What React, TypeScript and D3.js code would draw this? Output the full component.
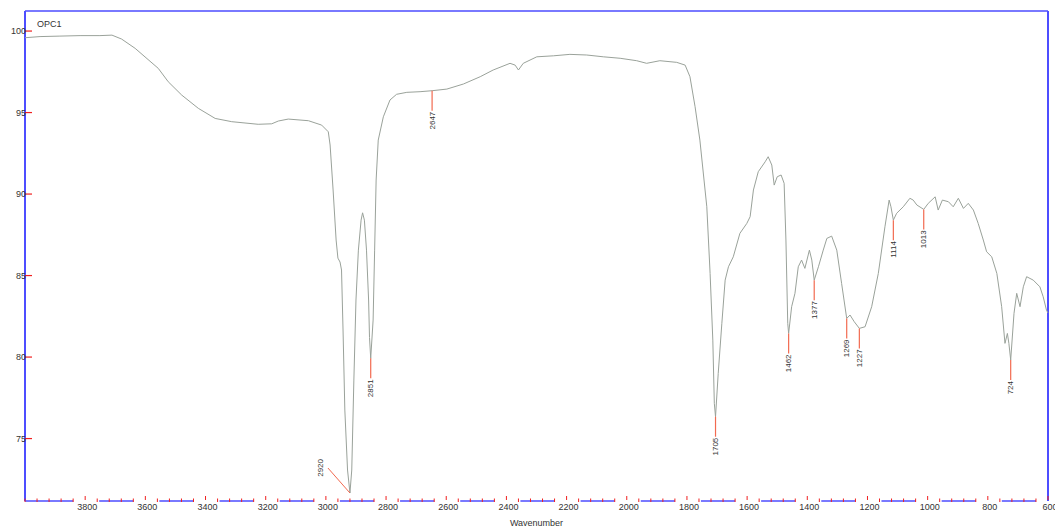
import React from "react";
import * as d3 from "d3";

// Spectrum: wavenumber (cm-1) and transmittance (%)
const wavenumbers = [
  4000, 3950, 3884, 3817, 3751, 3711, 3679, 3634, 3557, 3524, 3479, 3424, 3368, 3313, 3225, 3180,
  3158, 3125, 3058, 3014, 2992, 2986, 2976, 2966, 2960, 2953, 2948, 2943, 2937, 2928, 2920, 2914,
  2907, 2900, 2892, 2883, 2878, 2872, 2865, 2858, 2855, 2851, 2843, 2838, 2833, 2826, 2809, 2787,
  2765, 2731, 2687, 2647, 2598, 2543, 2487, 2444, 2388, 2371, 2360, 2353, 2344, 2299, 2244, 2189,
  2133, 2078, 2022, 1967, 1934, 1890, 1834, 1806, 1790, 1773, 1757, 1734, 1723, 1714, 1709, 1705,
  1696, 1684, 1673, 1662, 1646, 1624, 1601, 1590, 1579, 1563, 1540, 1530, 1518, 1510, 1500, 1487,
  1477, 1471, 1465, 1462, 1452, 1441, 1430, 1419, 1408, 1393, 1385, 1377, 1363, 1347, 1335, 1319,
  1302, 1286, 1269, 1258, 1244, 1227, 1208, 1186, 1164, 1142, 1128, 1122, 1114, 1103, 1081, 1059,
  1048, 1036, 1013, 998, 975, 965, 951, 931, 915, 898, 881, 865, 848, 832, 815, 804,
  787, 770, 754, 743, 735, 730, 724, 713, 704, 693, 682, 671, 649, 627, 616, 605, 600,
];
const transmittance = [
  99.59, 99.66, 99.69, 99.72, 99.72, 99.75, 99.51, 98.94, 97.71, 96.89, 96.07, 95.26, 94.64, 94.44, 94.28, 94.31,
  94.48, 94.6, 94.5, 94.23, 93.82, 93.01, 90.25, 87.18, 86.07, 85.83, 85.34, 81.66, 76.75, 73.07, 71.66, 73.07,
  78.59, 83.5, 86.56, 88.4, 88.85, 88.4, 86.56, 83.5, 81.2, 79.92, 82.27, 86.56, 90.86, 93.31, 94.74, 95.77,
  96.12, 96.24, 96.28, 96.34, 96.44, 96.75, 97.2, 97.61, 98.02, 97.91, 97.61, 97.79, 98.02, 98.42, 98.48, 98.57,
  98.53, 98.42, 98.33, 98.18, 98.02, 98.18, 98.08, 97.91, 97.2, 95.36, 93.31, 89.22, 85.13, 81.04, 77.16, 76.34,
  79.0, 82.07, 84.72, 85.54, 86.15, 87.59, 88.2, 88.61, 90.25, 91.37, 91.98, 92.29, 91.78, 90.55, 91.06, 91.17,
  90.66, 87.18, 82.07, 81.45, 83.09, 83.91, 85.54, 85.95, 85.44, 86.56, 85.95, 84.72, 85.54, 86.56, 87.28, 87.42,
  86.56, 84.52, 82.37, 82.58, 82.17, 81.76, 81.86, 83.09, 85.13, 87.99, 89.63, 89.22, 88.4, 88.82, 89.22, 89.74,
  89.63, 89.33, 89.06, 89.43, 89.83, 89.02, 89.63, 89.53, 89.22, 89.74, 89.12, 89.43, 89.02, 88.2, 87.18, 86.46,
  86.15, 85.13, 83.09, 80.84, 81.45, 80.84, 79.82, 82.68, 83.91, 83.09, 84.31, 84.93, 84.72, 84.31, 83.7, 82.88, 82.7,
];

const peakLabels = [2920, 2851, 2647, 1705, 1462, 1377, 1269, 1227, 1114, 1013, 724];
const yTicks = [75, 80, 85, 90, 95, 100];
const xMajorTicks = [3800, 3600, 3400, 3200, 3000, 2800, 2600, 2400, 2200, 2000, 1800, 1600, 1400, 1200, 1000, 800, 600];
const sampleName = "OPC1";
const xTitle = "Wavenumber";

const W = 1055;
const H = 528;
const L = 25;
const R = 1048;
const T = 11;
const B = 501;

const BLUE = "#4d4dff";
const RED = "#f02020";
const PEAKRED = "#f26a50";
const TEXT = "#333";
const FONT = "Liberation Sans, Arial, sans-serif";

export default function App() {
  const x = d3.scaleLinear().domain([4000, 600]).range([L, R]);
  const y = d3.scaleLinear().domain([71.17, 101.23]).range([B, T]);

  const data = wavenumbers.map((w, i) => ({ w, t: transmittance[i] }));
  const line = d3
    .line<{ w: number; t: number }>()
    .x((d) => x(d.w))
    .y((d) => y(d.t))
    .curve(d3.curveLinear);

  const interp = (w: number) => {
    for (let i = 0; i < data.length - 1; i++) {
      const a = data[i];
      const b = data[i + 1];
      if (w <= a.w && w >= b.w) {
        const f = a.w === b.w ? 0 : (a.w - w) / (a.w - b.w);
        return a.t + f * (b.t - a.t);
      }
    }
    return data[data.length - 1].t;
  };

  // minor ticks every 40 cm-1
  const minorTicks = d3.range(4000, 599, -40).filter((v) => (4000 - v) % 200 !== 0 || v === 4000);

  // blue axis segments, broken around labels
  const breaks = xMajorTicks.map((v) => [x(v) - 12, x(v) + 14]);
  const segs: [number, number][] = [];
  let start = L;
  breaks.forEach(([a, b]) => {
    if (a > start) segs.push([start, Math.min(a, R)]);
    start = b;
  });

  return (
    <svg
      width={W}
      height={H}
      style={{ position: "absolute", left: 0, top: 0, background: "#fff" }}
      fontFamily={FONT}
    >
      <rect x={0} y={0} width={W} height={H} fill="#fff" />
      {/* frame */}
      <line x1={L} y1={T} x2={R} y2={T} stroke={BLUE} strokeWidth={1.5} />
      <line x1={L} y1={T} x2={L} y2={B} stroke={BLUE} strokeWidth={2} />
      <line x1={R} y1={T} x2={R} y2={B} stroke={BLUE} strokeWidth={2} />
      {segs.map(([a, b], i) => (
        <line key={"s" + i} x1={a} y1={B} x2={b} y2={B} stroke={BLUE} strokeWidth={1.5} />
      ))}

      {/* x ticks */}
      {minorTicks.map((v) => (
        <line key={"m" + v} x1={x(v)} x2={x(v)} y1={B - 2.5} y2={B + 1} stroke={RED} strokeWidth={1} />
      ))}
      {xMajorTicks.map((v) => (
        <g key={"M" + v}>
          <line x1={x(v)} x2={x(v)} y1={B - 5} y2={B - 1} stroke={RED} strokeWidth={1} />
          <text x={x(v) + 2} y={B + 6} fontSize={9} fill={TEXT} textAnchor="middle" dominantBaseline="central">
            {v}
          </text>
        </g>
      ))}

      {/* y ticks */}
      {yTicks.map((v) => (
        <g key={"y" + v}>
          <line x1={L} x2={L + 7} y1={y(v)} y2={y(v)} stroke={RED} strokeWidth={1.2} />
          <text x={L + 1} y={y(v)} fontSize={9} fill={TEXT} textAnchor="end" dominantBaseline="central">
            {v}
          </text>
        </g>
      ))}

      <text x={37} y={24} fontSize={9} fill={TEXT} dominantBaseline="central">
        {sampleName}
      </text>
      <text x={(L + R) / 2} y={523} fontSize={9} fill={TEXT} textAnchor="middle" dominantBaseline="central">
        {xTitle}
      </text>

      {/* spectrum */}
      <path d={line(data) || ""} fill="none" stroke="#9aa29a" strokeWidth={1} />

      {/* peak labels */}
      {peakLabels.map((p) => {
        const px = x(p);
        const py = y(interp(p));
        if (p === 2920) {
          return (
            <g key={"p" + p}>
              <line x1={px} y1={py} x2={px - 22} y2={py - 25} stroke={PEAKRED} strokeWidth={1} />
              <text
                transform={`translate(${px - 29},${py - 34}) rotate(-90)`}
                fontSize={8}
                fill={TEXT}
                textAnchor="end"
                dominantBaseline="central"
              >
                {p}
              </text>
            </g>
          );
        }
        return (
          <g key={"p" + p}>
            <line x1={px} y1={py} x2={px} y2={py + 20} stroke={PEAKRED} strokeWidth={1.2} />
            <text
              transform={`translate(${px},${py + 21}) rotate(-90)`}
              fontSize={8}
              fill={TEXT}
              textAnchor="end"
              dominantBaseline="central"
            >
              {p}
            </text>
          </g>
        );
      })}
    </svg>
  );
}
